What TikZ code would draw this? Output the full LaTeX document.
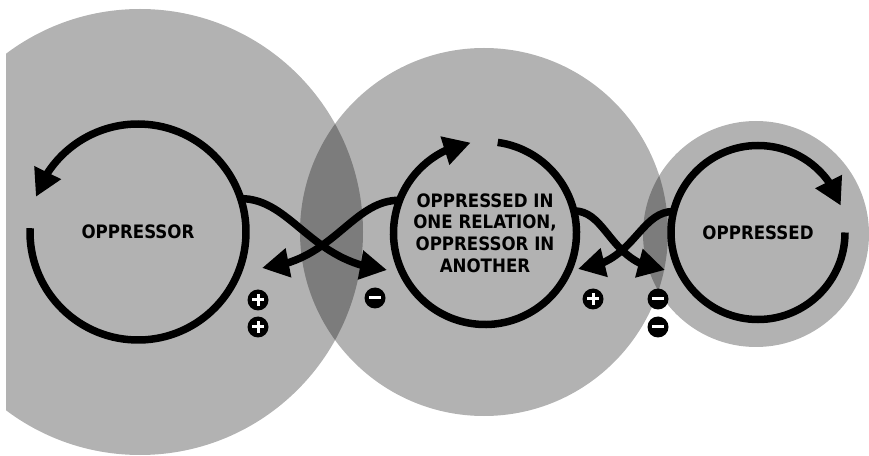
\documentclass[tikz,border=0pt]{standalone}
\usepackage{fontspec}
\setmainfont{DejaVu Sans Condensed}
\usetikzlibrary{arrows.meta,bending}

\tikzset{
  disk/.style={fill=black,fill opacity=0.3},
  hub/.style={circle,inner sep=0pt,outer sep=0pt,align=center,
    font=\fontsize{18.5}{21.7}\selectfont\bfseries},
  ring/.style={line width=7.5pt,-{Triangle[length=27pt,width=28pt]}},
  link/.style={line width=7.5pt,-{Triangle[length=27pt,width=28pt]}},
  badge/.style={circle,fill=black,minimum size=21pt,inner sep=0pt},
  negsign/.style={badge,path picture={
    \draw[white,line width=3pt] ([xshift=-6pt]path picture bounding box.center)
      -- ([xshift=6pt]path picture bounding box.center);}},
  possign/.style={badge,path picture={
    \draw[white,line width=3pt] ([xshift=-6pt]path picture bounding box.center)
      -- ([xshift=6pt]path picture bounding box.center)
      ([yshift=-6pt]path picture bounding box.center)
      -- ([yshift=6pt]path picture bounding box.center);}}
}

\begin{document}
\begin{tikzpicture}[x=1pt,y=1pt]
  \useasboundingbox (0,0) rectangle (869,455);
  \clip (6,0) rectangle (869,455);
  % shaded disks
  \fill[disk] (140,223) circle[radius=223];
  \fill[disk] (484,223) circle[radius=184];
  \fill[disk] (756,221) circle[radius=113];

  \node[hub,minimum size=216pt] (oppressor) at (138,223) {OPPRESSOR};
  \node[hub,minimum size=183pt] (middle) at (485,222)
    {OPPRESSED IN\\ONE RELATION,\\OPPRESSOR IN\\ANOTHER};
  \node[hub,minimum size=174pt] (oppressed) at (758,222.5) {OPPRESSED};

  \draw[ring] (oppressor.178) arc[start angle=178,end angle=521,radius=108];
  \draw[ring] (middle.82) arc[start angle=82,end angle=-261,radius=91.5];
  \draw[ring] (oppressed.0) arc[start angle=0,end angle=-342,radius=87];

  \coordinate (tipA) at (387,185);
  \coordinate (tipB) at (262,187);
  \coordinate (tipC) at (665,185);
  \coordinate (tipD) at (578,186);
  \draw[link] (oppressor.18) to[out=0,in=175,out looseness=0.8,in looseness=1.2] (tipA);
  \draw[link] (middle.159) to[out=180,in=5,out looseness=0.8,in looseness=1.2] (tipB);
  \draw[link] (middle.14) to[out=0,in=175,out looseness=0.8,in looseness=1.3] (tipC);
  \draw[link] (oppressed.166) to[out=180,in=5,out looseness=0.8,in looseness=1.3] (tipD);

  \node[possign] (plusA) at (258,155) {};
  \node[possign] (plusB) at (258,128) {};
  \node[negsign] (minusA) at (375,157) {};
  \node[possign] (plusC) at (593,156) {};
  \node[negsign] (minusB) at (658,156) {};
  \node[negsign] (minusC) at (658,128) {};
\end{tikzpicture}
\end{document}
